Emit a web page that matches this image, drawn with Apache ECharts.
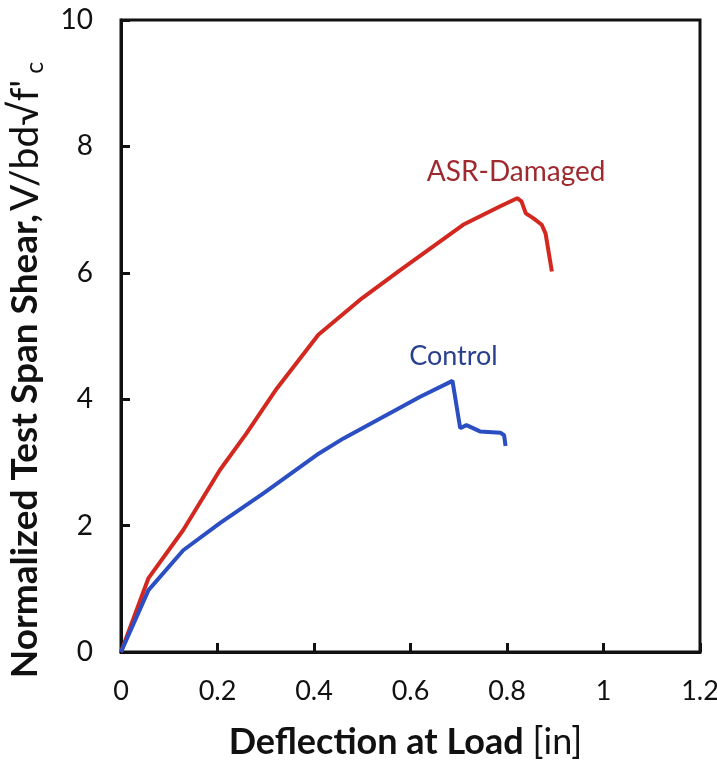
<!DOCTYPE html>
<html lang="en">
<head>
    <meta charset="UTF-8">
    <title>Shear vs Deflection</title>
    <script src="https://cdn.jsdelivr.net/npm/echarts@6/dist/echarts.min.js"></script>
    <style>
        body { margin: 0; background: #fff; }
        #chart { width: 717px; height: 760px; }
    </style>
</head>
<body>
<div id="chart"></div>
<script>
    // deflection [in] / normalized shear
    const asrX = [0, 0.057, 0.129, 0.205, 0.260, 0.323, 0.409, 0.5, 0.578, 0.709, 0.785, 0.821, 0.830, 0.839, 0.855, 0.872, 0.880, 0.893];
    const asrY = [0, 1.17, 1.93, 2.88, 3.46, 4.17, 5.02, 5.6, 6.04, 6.76, 7.05, 7.18, 7.13, 6.94, 6.86, 6.76, 6.62, 6.02];
    const ctrlX = [0, 0.057, 0.129, 0.205, 0.295, 0.406, 0.461, 0.620, 0.687, 0.703, 0.716, 0.744, 0.786, 0.794, 0.797];
    const ctrlY = [0, 0.98, 1.61, 2.04, 2.51, 3.12, 3.38, 4.04, 4.29, 3.54, 3.59, 3.49, 3.47, 3.43, 3.26];

    const seriesNames = ["ASR-Damaged", "Control"];
    const labelAt = [[0.819, 7.59], [0.689, 4.68]];

    const font = "Lato, 'Open Sans', sans-serif";

    const pairs = (xs, ys) => xs.map((x, i) => [x, ys[i]]);

    const myChart = echarts.init(document.getElementById("chart"));
    const option = {
        animation: false,
        textStyle: { fontFamily: font },
        grid: {
            left: 121, right: 17, top: 20, bottom: 108,
            outerBoundsMode: 'none',
            containLabel: false,
            show: true, borderColor: '#111', borderWidth: 3
        },
        xAxis: {
            type: 'value',
            min: 0, max: 1.2, interval: 0.2,
            name: '{b|Deflection at Load}{n|[in]}',
            nameLocation: 'middle',
            nameGap: 72,
            nameTextStyle: {
                padding: [0, 10, 0, 0],
                rich: {
                    b: { fontFamily: font, fontSize: 36, fontWeight: 'bold', color: '#111' },
                    n: { fontFamily: font, fontSize: 36, color: '#111', padding: [0, 0, 0, 9] }
                }
            },
            axisLine: { show: true, lineStyle: { color: '#111', width: 3 } },
            axisTick: { show: true, inside: true, length: 9, lineStyle: { color: '#111', width: 3 } },
            axisLabel: { fontSize: 27, color: '#111', margin: 26, fontFamily: font },
            splitLine: { show: false }
        },
        yAxis: {
            type: 'value',
            min: 0, max: 10, interval: 2,
            name: "{b|Normalized Test Span Shear,} {n|V/bd\u221Af'}{s|c}",
            nameLocation: 'middle',
            nameRotate: 90,
            nameGap: 74,
            nameTextStyle: {
                padding: [0, 68, 0, 0],
                rich: {
                    b: { fontFamily: font, fontSize: 37, fontWeight: 'bold', color: '#111' },
                    n: { fontFamily: font, fontSize: 39, color: '#111' },
                    s: { fontFamily: font, fontSize: 25, color: '#111', padding: [18, 0, 0, 6] }
                }
            },
            axisLine: { show: true, lineStyle: { color: '#111', width: 3 } },
            axisTick: { show: true, inside: true, length: 9, lineStyle: { color: '#111', width: 3 } },
            axisLabel: { fontSize: 28, color: '#111', margin: 28, fontFamily: font },
            splitLine: { show: false }
        },
        series: [
            {
                name: seriesNames[0],
                type: 'line',
                data: pairs(asrX, asrY),
                showSymbol: false,
                lineStyle: { color: '#d2281f', width: 4 },
                markPoint: {
                    symbolSize: 0,
                    data: [{ coord: labelAt[0], value: seriesNames[0] }],
                    label: { show: true, position: 'inside', formatter: '{c}', fontSize: 28, color: '#9e2a2f', fontFamily: font }
                }
            },
            {
                name: seriesNames[1],
                type: 'line',
                data: pairs(ctrlX, ctrlY),
                showSymbol: false,
                lineStyle: { color: '#2b4fc2', width: 4 },
                markPoint: {
                    symbolSize: 0,
                    data: [{ coord: labelAt[1], value: seriesNames[1] }],
                    label: { show: true, position: 'inside', formatter: '{c}', fontSize: 27, color: '#28408e', fontFamily: font }
                }
            }
        ]
    };
    myChart.setOption(option);
</script>
</body>
</html>
